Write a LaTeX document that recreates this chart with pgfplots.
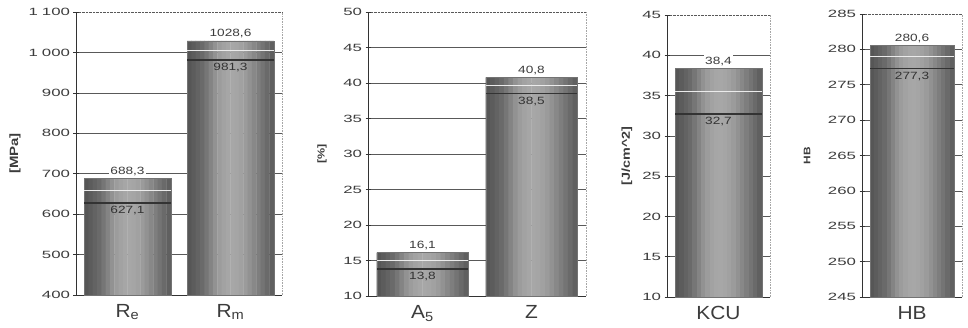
\documentclass[border=0pt]{standalone}
\usepackage{pgfplots}
\pgfplotsset{compat=1.18}
\usepackage{fontspec}
\setmainfont{Liberation Sans}
\newfontfamily\tickfont[FakeStretch=1.6]{Liberation Sans}
\newfontfamily\valfont[FakeStretch=1.3]{Liberation Sans}
\newfontfamily\catfont[FakeStretch=1.1]{Liberation Sans}
\newfontfamily\labfont[FakeStretch=1.25]{Liberation Sans}
\definecolor{txt}{RGB}{60,60,60}
\definecolor{g0}{RGB}{86,86,86}
\definecolor{g1}{RGB}{92,92,92}
\definecolor{g2}{RGB}{99,99,99}
\definecolor{g3}{RGB}{106,106,106}
\definecolor{g4}{RGB}{118,118,118}
\definecolor{g5}{RGB}{132,132,132}
\definecolor{g6}{RGB}{146,146,146}
\definecolor{g7}{RGB}{156,156,156}
\definecolor{g8}{RGB}{162,162,162}
\definecolor{g9}{RGB}{166,166,166}
\definecolor{g10}{RGB}{167,167,167}
\definecolor{g11}{RGB}{165,165,165}
\definecolor{g12}{RGB}{161,161,161}
\definecolor{g13}{RGB}{155,155,155}
\definecolor{g14}{RGB}{146,146,146}
\definecolor{g15}{RGB}{136,136,136}
\definecolor{g16}{RGB}{126,126,126}
\definecolor{g17}{RGB}{116,116,116}
\definecolor{g18}{RGB}{106,106,106}
\definecolor{g19}{RGB}{96,96,96}
\pgfplotsset{
 panel/.style={
  scale only axis, anchor=south west,
  xmin=-0.5,
  axis x line*=bottom, axis y line*=left,
  axis line style={-, black!80, line width=0.9pt},
  xtick style={draw=none},
  minor tick length=4pt,
  minor x tick style={black!70, line width=0.6pt},
  ytick pos=left, tick align=center, major tick length=5pt,
  ytick style={black!80, line width=0.6pt},
  ymajorgrids, major grid style={black!65, line width=0.6pt},
  extra y tick style={grid style={black!35, densely dotted, line width=0.6pt}},
  clip=false,
  yticklabel style={font=\tickfont\fontsize{10.5}{10.5}\selectfont, text=txt},
  xticklabel style={font=\catfont\fontsize{19}{19}\selectfont, text=txt, yshift=-3pt},
  /pgf/number format/assume math mode=true,
  /pgf/number format/1000 sep={\hspace{4pt}},
 },
 strip/.style={ybar, bar width=0.046, draw=none, forget plot},
 minl/.style={draw=none, mark=none, forget plot,
   error bars/.cd, x dir=both, x explicit, error mark=none,
   error bar style={black!80, line width=1.6pt}},
 meanl/.style={draw=none, mark=none, forget plot,
   error bars/.cd, x dir=both, x explicit, error mark=none,
   error bar style={white!92!black, line width=1.2pt}},
 toplab/.style={draw=none, mark=none, forget plot, point meta=explicit symbolic,
   nodes near coords, every node near coord/.append style={fill=white, inner sep=1.5pt,
   font=\valfont\fontsize{10.5}{10.5}\selectfont, text=txt, anchor=south, yshift=1pt}},
 botlab/.style={draw=none, mark=none, forget plot, point meta=explicit symbolic,
   nodes near coords, every node near coord/.append style={inner sep=1pt,
   font=\valfont\fontsize{10.5}{10.5}\selectfont, text=black!80, anchor=north, yshift=-2pt}},
}
\newcommand\cyl[1]{%
 \addplot[strip, bar shift=-0.399, fill=g0] coordinates {#1};
 \addplot[strip, bar shift=-0.357, fill=g1] coordinates {#1};
 \addplot[strip, bar shift=-0.315, fill=g2] coordinates {#1};
 \addplot[strip, bar shift=-0.273, fill=g3] coordinates {#1};
 \addplot[strip, bar shift=-0.231, fill=g4] coordinates {#1};
 \addplot[strip, bar shift=-0.189, fill=g5] coordinates {#1};
 \addplot[strip, bar shift=-0.147, fill=g6] coordinates {#1};
 \addplot[strip, bar shift=-0.105, fill=g7] coordinates {#1};
 \addplot[strip, bar shift=-0.063, fill=g8] coordinates {#1};
 \addplot[strip, bar shift=-0.021, fill=g9] coordinates {#1};
 \addplot[strip, bar shift=0.021, fill=g10] coordinates {#1};
 \addplot[strip, bar shift=0.063, fill=g11] coordinates {#1};
 \addplot[strip, bar shift=0.105, fill=g12] coordinates {#1};
 \addplot[strip, bar shift=0.147, fill=g13] coordinates {#1};
 \addplot[strip, bar shift=0.189, fill=g14] coordinates {#1};
 \addplot[strip, bar shift=0.231, fill=g15] coordinates {#1};
 \addplot[strip, bar shift=0.273, fill=g16] coordinates {#1};
 \addplot[strip, bar shift=0.315, fill=g17] coordinates {#1};
 \addplot[strip, bar shift=0.357, fill=g18] coordinates {#1};
 \addplot[strip, bar shift=0.399, fill=g19, bar width=0.042] coordinates {#1};
 \addplot[ybar, bar width=0.84, bar shift=0pt, fill=none, draw=black!55, line width=0.4pt, forget plot] coordinates {#1};
}
\begin{document}
\begin{tikzpicture}
\path[use as bounding box] (0,0) rectangle (968pt,328pt);
% Panel 1
\begin{axis}[panel, at={(76pt,33pt)}, width=206pt, height=283pt,
  xmax=1.5, ymin=400, ymax=1100, ytick={400,500,...,1000}, extra y ticks={1100},
  xtick={0,1}, xticklabels={R\textsubscript{e}, R\textsubscript{m}},
  minor xtick={-0.5,0.5,1.5}, ylabel={[MPa]},
  every axis y label/.style={at={(axis description cs:0,0.5)}, xshift=-61pt, rotate=90, anchor=center, text=txt, font=\labfont\bfseries\fontsize{12}{12}\selectfont}]
\cyl{(0,688.3) (1,1028.6)}
\addplot[meanl] coordinates {(0,657.7) +- (0.42,0) (1,1004.95) +- (0.42,0)};
\addplot[minl] coordinates {(0,627.1) +- (0.42,0) (1,981.3) +- (0.42,0)};
\addplot[toplab] table[row sep=\\, x=x, y=y, meta=lab] {x y lab\\ 0 688.3 688,3\\ 1 1028.6 1028,6\\};
\addplot[botlab] table[row sep=\\, x=x, y=y, meta=lab] {x y lab\\ 0 627.1 627,1\\ 1 981.3 981,3\\};
\draw[black!35, densely dotted, line width=0.6pt] (rel axis cs:1,0) -- (rel axis cs:1,1);
\end{axis}
% Panel 2
\begin{axis}[panel, at={(368pt,32pt)}, width=218pt, height=284pt,
  xmax=1.5, ymin=10, ymax=50, ytick={10,15,...,45}, extra y ticks={50},
  xtick={0,1}, xticklabels={A\textsubscript{5}, Z},
  minor xtick={-0.5,0.5,1.5}, ylabel={[\%]},
  every axis y label/.style={at={(axis description cs:0,0.5)}, xshift=-46pt, rotate=90, anchor=center, text=txt, font=\labfont\bfseries\fontsize{10}{10}\selectfont}]
\cyl{(0,16.1) (1,40.8)}
\addplot[meanl] coordinates {(0,14.95) +- (0.42,0) (1,39.65) +- (0.42,0)};
\addplot[minl] coordinates {(0,13.8) +- (0.42,0) (1,38.5) +- (0.42,0)};
\addplot[toplab] table[row sep=\\, x=x, y=y, meta=lab] {x y lab\\ 0 16.1 16,1\\ 1 40.8 40,8\\};
\addplot[botlab] table[row sep=\\, x=x, y=y, meta=lab] {x y lab\\ 0 13.8 13,8\\ 1 38.5 38,5\\};
\draw[black!35, densely dotted, line width=0.6pt] (rel axis cs:1,0) -- (rel axis cs:1,1);
\end{axis}
% Panel 3
\begin{axis}[panel, at={(667pt,31pt)}, width=103pt, height=282pt,
  xmax=0.5, ymin=10, ymax=45, ytick={10,15,...,40}, extra y ticks={45},
  xtick={0}, xticklabels={KCU},
  minor xtick={-0.5,0.5}, ylabel={[J/cm\textasciicircum 2]},
  every axis y label/.style={at={(axis description cs:0,0.5)}, xshift=-40pt, rotate=90, anchor=center, text=txt, font=\labfont\bfseries\fontsize{11.5}{11.5}\selectfont}]
\cyl{(0,38.4)}
\addplot[meanl] coordinates {(0,35.55) +- (0.42,0)};
\addplot[minl] coordinates {(0,32.7) +- (0.42,0)};
\addplot[toplab] table[row sep=\\, x=x, y=y, meta=lab] {x y lab\\ 0 38.4 38,4\\};
\addplot[botlab] table[row sep=\\, x=x, y=y, meta=lab] {x y lab\\ 0 32.7 32,7\\};
\draw[black!35, densely dotted, line width=0.6pt] (rel axis cs:1,0) -- (rel axis cs:1,1);
\end{axis}
% Panel 4
\begin{axis}[panel, at={(862pt,31pt)}, width=100pt, height=283pt,
  xmax=0.5, ymin=245, ymax=285, ytick={245,250,...,280}, extra y ticks={285},
  xtick={0}, xticklabels={HB},
  minor xtick={-0.5,0.5}, ylabel={HB},
  every axis y label/.style={at={(axis description cs:0,0.5)}, xshift=-55pt, rotate=90, anchor=center, text=txt, font=\labfont\bfseries\fontsize{9.5}{9.5}\selectfont}]
\cyl{(0,280.6)}
\addplot[meanl] coordinates {(0,278.95) +- (0.42,0)};
\addplot[minl] coordinates {(0,277.3) +- (0.42,0)};
\addplot[toplab] table[row sep=\\, x=x, y=y, meta=lab] {x y lab\\ 0 280.6 280,6\\};
\addplot[botlab] table[row sep=\\, x=x, y=y, meta=lab] {x y lab\\ 0 277.3 277,3\\};
\draw[black!35, densely dotted, line width=0.6pt] (rel axis cs:1,0) -- (rel axis cs:1,1);
\end{axis}
\end{tikzpicture}
\end{document}
